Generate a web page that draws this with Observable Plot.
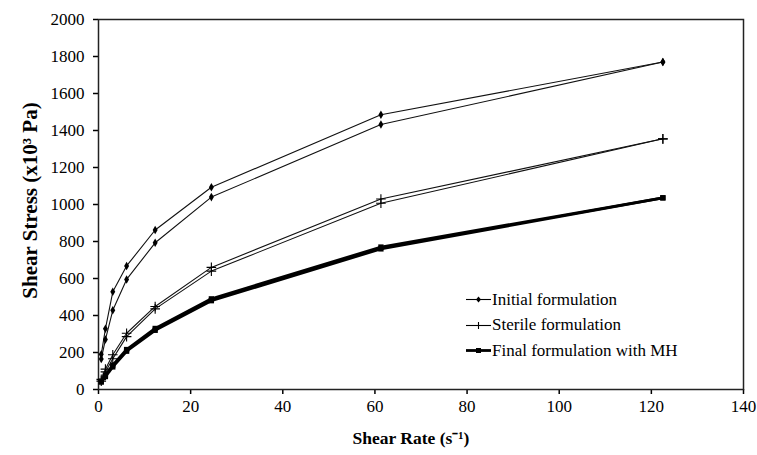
<!DOCTYPE html>
<html>
<head>
<meta charset="utf-8">
<script src="https://cdn.jsdelivr.net/npm/d3@7"></script>
<script src="https://cdn.jsdelivr.net/npm/@observablehq/plot@0.6"></script>
<style>
  html, body { margin: 0; padding: 0; background: #fff; }
  #wrap { position: relative; width: 757px; height: 455px; font-family: "Liberation Serif", "DejaVu Serif", serif; color: #000; }
  #legend { position: absolute; left: 466px; top: 287px; font-size: 17px; }
  #legend .row { display: flex; align-items: center; height: 25.5px; }
  #legend svg { margin-right: 1px; }
</style>
</head>
<body>
<div id="wrap"><div id="chart"></div><div id="legend"></div></div>
<script>
// Shear rate (s^-1)
const rate = [0.6, 1.5, 3.1, 6.1, 12.3, 24.5, 61.3, 122.5];
// Shear stress (x10^3 Pa), up and down curves
const initialUp   = [190, 328, 528, 668, 862, 1093, 1485, 1770];
const initialDown = [165, 270, 428, 595, 793, 1040, 1432, 1770];
const sterileUp   = [55, 110, 188, 304, 449, 660, 1030, 1355];
const sterileDown = [45, 95, 166, 286, 436, 640, 1007, 1355];
const finalUp     = [45, 78, 132, 216, 330, 490, 770, 1036];
const finalDown   = [40, 70, 122, 207, 320, 480, 760, 1036];

const seriesNames = ["Initial formulation", "Sterile formulation", "Final formulation with MH"];
const xTicks = [0, 20, 40, 60, 80, 100, 120, 140];
const yTicks = [0, 200, 400, 600, 800, 1000, 1200, 1400, 1600, 1800, 2000];

const curves = [
  {series: seriesNames[0], branch: "up", values: initialUp},
  {series: seriesNames[0], branch: "down", values: initialDown},
  {series: seriesNames[1], branch: "up", values: sterileUp},
  {series: seriesNames[1], branch: "down", values: sterileDown},
  {series: seriesNames[2], branch: "up", values: finalUp},
  {series: seriesNames[2], branch: "down", values: finalDown}
];
const rows = curves.flatMap(c => c.values.map((v, i) => ({series: c.series, branch: c.branch, key: c.series + c.branch, x: rate[i], y: v})));
const bySeries = s => rows.filter(d => d.series === s);

const chart = Plot.plot({
  width: 757,
  height: 455,
  marginLeft: 98,
  marginRight: 14,
  marginTop: 19,
  marginBottom: 66,
  style: {fontFamily: "'Liberation Serif', serif", fontSize: "17px", color: "#000", background: "#fff"},
  x: {domain: [0, 140], ticks: xTicks, tickSize: 5, tickPadding: 5, tickFormat: d => String(d), label: null},
  y: {domain: [0, 2000], ticks: yTicks, tickSize: 5, tickPadding: 9, tickFormat: d => String(d), label: null},
  marks: [
    Plot.frame({stroke: "#222", strokeWidth: 1.5}),
    Plot.line(bySeries(seriesNames[0]), {x: "x", y: "y", z: "key", stroke: "#111", strokeWidth: 1.1}),
    Plot.line(bySeries(seriesNames[1]), {x: "x", y: "y", z: "key", stroke: "#111", strokeWidth: 1.1}),
    Plot.line(bySeries(seriesNames[2]), {x: "x", y: "y", z: "key", stroke: "#000", strokeWidth: 2.8}),
    Plot.dot(bySeries(seriesNames[0]), {x: "x", y: "y", symbol: "diamond", r: 2.6, fill: "#000", stroke: "none"}),
    Plot.dot(bySeries(seriesNames[1]), {x: "x", y: "y", symbol: "plus", r: 3.2, stroke: "#000", strokeWidth: 1.1}),
    Plot.dot(bySeries(seriesNames[2]), {x: "x", y: "y", symbol: "square", r: 3, fill: "#000", stroke: "none"}),
    Plot.text(["Shear Rate (s\u207B\u00B9)"], {frameAnchor: "bottom", dy: 54, dx: -10, fontWeight: "bold", fontSize: 17.5, fill: "#000"}),
    Plot.text(["Shear Stress (x10\u00B3 Pa)"], {frameAnchor: "left", textAnchor: "middle", dx: -68, dy: -4, rotate: -90, fontWeight: "bold", fontSize: 21, fill: "#000"})
  ]
});
chart.querySelectorAll('[aria-label="x-axis tick"] path, [aria-label="y-axis tick"] path').forEach(p => p.setAttribute("stroke-width", 1.5));
document.getElementById("chart").appendChild(chart);

// Legend
const legendSpecs = [
  {name: seriesNames[0], width: 1.1, marker: "diamond"},
  {name: seriesNames[1], width: 1.1, marker: "plus"},
  {name: seriesNames[2], width: 2.8, marker: "square"}
];
const legend = document.getElementById("legend");
for (const s of legendSpecs) {
  const row = document.createElement("div");
  row.className = "row";
  let m = "";
  if (s.marker === "diamond") m = '<path d="M12.5,4.5L15,7.5L12.5,10.5L10,7.5Z" fill="#000"/>';
  if (s.marker === "plus") m = '<path d="M12.5,4V11M9,7.5H16" stroke="#000" stroke-width="1.1"/>';
  if (s.marker === "square") m = '<rect x="10" y="5" width="5" height="5" fill="#000"/>';
  row.innerHTML = `<svg width="25" height="15"><line x1="0" x2="25" y1="7.5" y2="7.5" stroke="#000" stroke-width="${s.width}"/>${m}</svg><span>${s.name}</span>`;
  legend.appendChild(row);
}
</script>
</body>
</html>
